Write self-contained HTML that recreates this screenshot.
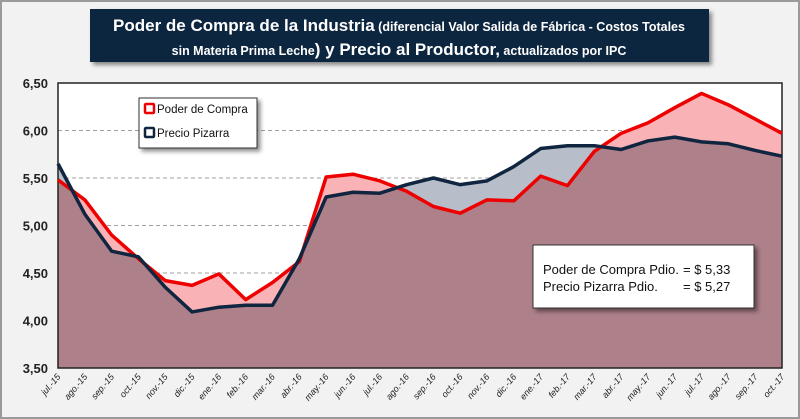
<!DOCTYPE html>
<html><head><meta charset="utf-8">
<style>
html,body{margin:0;padding:0;background:#f2f2f2;}
svg{display:block;font-family:"Liberation Sans",sans-serif;}
</style></head>
<body>
<svg id="chart" width="800" height="419" viewBox="0 0 800 419">
<defs>
<filter id="sh" x="-5%" y="-5%" width="115%" height="130%"><feDropShadow dx="3" dy="3" stdDeviation="2" flood-color="#000" flood-opacity="0.45"/></filter>
<clipPath id="clipPiz"><path id="clipPizPath"/></clipPath>
</defs>
<rect x="1" y="1" width="798" height="417" fill="#f2f2f2" stroke="#9a9a9a" stroke-width="2"/>
<g filter="url(#sh)">
<rect x="90" y="9" width="619" height="53" fill="#10253f"/>
</g>
<text x="399" y="31" text-anchor="middle" fill="#fff"><tspan font-size="17" font-weight="bold">Poder de Compra de la Industria</tspan><tspan font-size="12.5" font-weight="bold"> (diferencial Valor Salida de Fábrica - Costos Totales</tspan></text>
<text x="399" y="55" text-anchor="middle" fill="#fff"><tspan font-size="12.5" font-weight="bold">sin Materia Prima Leche</tspan><tspan font-size="17" font-weight="bold">) y Precio al Productor,</tspan><tspan font-size="12.5" font-weight="bold"> actualizados por IPC</tspan></text>
<g id="plot"></g>
</svg>
<script>
const categories=["jul.-15","ago.-15","sep.-15","oct.-15","nov.-15","dic.-15","ene.-16","feb.-16","mar.-16","abr.-16","may.-16","jun.-16","jul.-16","ago.-16","sep.-16","oct.-16","nov.-16","dic.-16","ene.-17","feb.-17","mar.-17","abr.-17","may.-17","jun.-17","jul.-17","ago.-17","sep.-17","oct.-17"];
const poderCompra=[5.48,5.27,4.90,4.65,4.42,4.37,4.49,4.22,4.40,4.62,5.51,5.54,5.47,5.36,5.20,5.13,5.27,5.26,5.52,5.42,5.78,5.97,6.08,6.24,6.39,6.27,6.12,5.97];
const precioPizarra=[5.65,5.12,4.73,4.67,4.35,4.09,4.14,4.16,4.16,4.65,5.30,5.35,5.34,5.43,5.50,5.43,5.47,5.62,5.81,5.84,5.84,5.80,5.89,5.93,5.88,5.86,5.79,5.73];
const yTicks=[3.5,4.0,4.5,5.0,5.5,6.0,6.5];
const yTickLabels=["3,50","4,00","4,50","5,00","5,50","6,00","6,50"];
const avgNames=["Poder de Compra Pdio.","Precio Pizarra Pdio."];
const avgValues=["= $ 5,33","= $ 5,27"];

const NS="http://www.w3.org/2000/svg";
const L=58,R=782,T=83,B=368,yMin=3.5,yMax=6.5;
const xs=i=>L+(R-L)*i/(categories.length-1);
const ys=v=>B-(v-yMin)/(yMax-yMin)*(B-T);
const plot=document.getElementById('plot');
function mk(tag,attrs,parent){const e=document.createElementNS(NS,tag);for(const k in attrs)e.setAttribute(k,attrs[k]);(parent||plot).appendChild(e);return e;}

const bg=mk('rect',{x:L,y:T,width:R-L,height:B-T,fill:'#fff'});



yTicks.forEach((t,i)=>{
  if(t>yMin&&t<yMax){const g=mk('line',{x1:L,x2:R,y1:ys(t),y2:ys(t),stroke:'#a0a0a0','stroke-dasharray':'4,3','stroke-width':1});
  
  }
  const tl=mk('text',{x:L-10,y:ys(t)+5,'text-anchor':'end','font-size':13,'font-weight':'bold',fill:'#222'});
  tl.textContent=yTickLabels[i];
  
  
});

function areaPath(vals){let d='M'+xs(0)+','+B;vals.forEach((v,i)=>d+=' L'+xs(i)+','+ys(v));return d+' L'+xs(vals.length-1)+','+B+' Z';}
function linePath(vals){return vals.map((v,i)=>(i?'L':'M')+xs(i)+','+ys(v)).join(' ');}

const ap=mk('path',{d:areaPath(poderCompra),fill:'#f9b3b6'});


const app=mk('path',{d:areaPath(precioPizarra),fill:'#b7bdc9'});


document.getElementById('clipPizPath').setAttribute('d',areaPath(precioPizarra));
const ov=mk('path',{d:areaPath(poderCompra),fill:'#ad808a','clip-path':'url(#clipPiz)'});



const frame=mk('rect',{x:L,y:T,width:R-L,height:B-T,fill:'none',stroke:'#222','stroke-width':1.5});



const lr=mk('path',{d:linePath(poderCompra),fill:'none',stroke:'#ee0000','stroke-width':3.5,'stroke-linejoin':'round'});


const lb=mk('path',{d:linePath(precioPizarra),fill:'none',stroke:'#10253f','stroke-width':3.5,'stroke-linejoin':'round'});



categories.forEach((c,i)=>{
  const x=xs(i);
  const t=mk('text',{x:x+3,y:B+9,'text-anchor':'end','font-size':9,'font-style':'italic',fill:'#222',transform:`rotate(-50 ${x+3} ${B+9})`});
  t.textContent=c;
  
  
});

const lg=mk('g',{filter:'url(#sh)'});


mk('rect',{x:139,y:98,width:118,height:50,fill:'#fff',stroke:'#333','stroke-width':1},lg);
const entries=[["Poder de Compra","#ee0000",112],["Precio Pizarra","#10253f",136]];
entries.forEach(e=>{
  const s=mk('rect',{x:145,y:e[2]-8,width:9,height:9,fill:'#fff',stroke:e[1],'stroke-width':2.5,rx:1});
  
  
  const t=mk('text',{x:157,y:e[2]+1,'font-size':11.5,fill:'#111'});
  t.textContent=e[0];
  
  
});

const bx=mk('g',{filter:'url(#sh)'});


mk('rect',{x:533,y:245,width:221,height:63,fill:'#fff',stroke:'#333','stroke-width':1},bx);
avgNames.forEach((s,i)=>{
  const t=mk('text',{x:543,y:274+i*17,'font-size':13,fill:'#111'});
  t.textContent=s;
  
  
  const v=mk('text',{x:683,y:274+i*17,'font-size':13,fill:'#111'});
  v.textContent=avgValues[i];
  
  
});
</script>
</body></html>
